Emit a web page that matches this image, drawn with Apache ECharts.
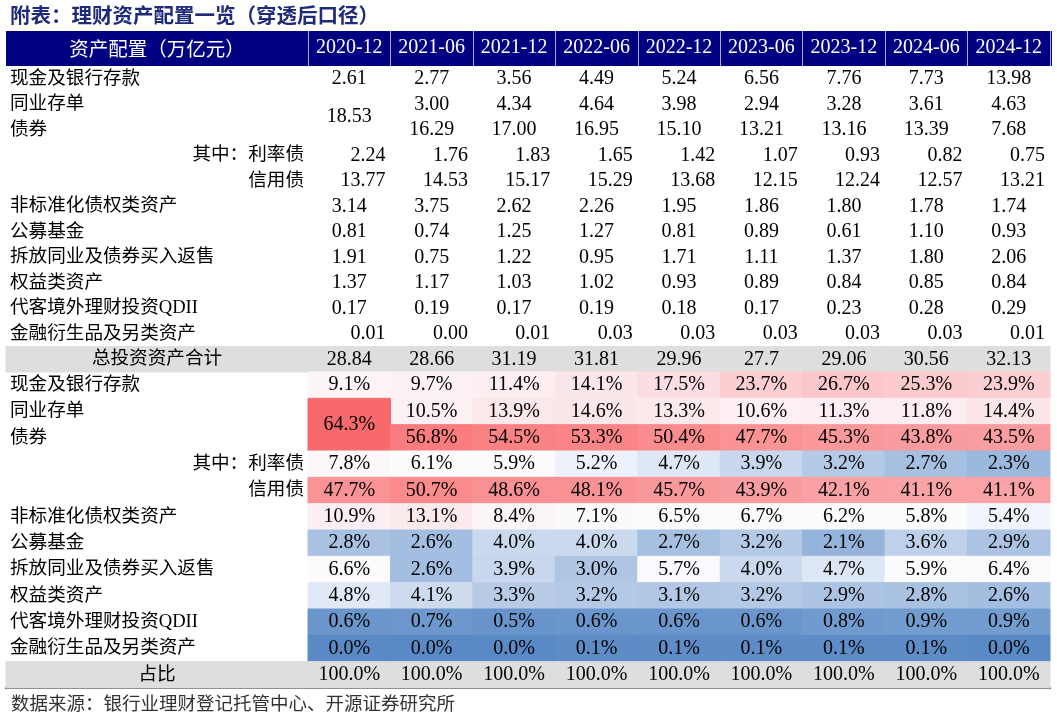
<!DOCTYPE html>
<html><head><meta charset="utf-8">
<script src="https://cdn.jsdelivr.net/npm/echarts@6/dist/echarts.min.js"></script>
<style>html,body{margin:0;padding:0;background:#fff}#c{width:1057px;height:719px}</style>
</head><body><div id="c"></div>
<script>
// ---------- DATA ----------
const dates = ['2020-12','2021-06','2021-12','2022-06','2022-12','2023-06','2023-12','2024-06','2024-12'];
const assetNames = ['现金及银行存款','同业存单','债券','其中：利率债','信用债','非标准化债权类资产','公募基金','拆放同业及债券买入返售','权益类资产','代客境外理财投资QDII','金融衍生品及另类资产'];
const totalName = '总投资资产合计';
const shareName = '占比';
const headerName = '资产配置（万亿元）';

// amounts, 万亿元 (2020-12 同业存单 reported together with 债券)
const amtCash      = [2.61, 2.77, 3.56, 4.49, 5.24, 6.56, 7.76, 7.73, 13.98];
const amtNcd       = [null, 3.00, 4.34, 4.64, 3.98, 2.94, 3.28, 3.61, 4.63];
const amtBond      = [18.53, 16.29, 17.00, 16.95, 15.10, 13.21, 13.16, 13.39, 7.68];
const amtRate      = [2.24, 1.76, 1.83, 1.65, 1.42, 1.07, 0.93, 0.82, 0.75];
const amtCredit    = [13.77, 14.53, 15.17, 15.29, 13.68, 12.15, 12.24, 12.57, 13.21];
const amtNonStd    = [3.14, 3.75, 2.62, 2.26, 1.95, 1.86, 1.80, 1.78, 1.74];
const amtFund      = [0.81, 0.74, 1.25, 1.27, 0.81, 0.89, 0.61, 1.10, 0.93];
const amtRepo      = [1.91, 0.75, 1.22, 0.95, 1.71, 1.11, 1.37, 1.80, 2.06];
const amtEquity    = [1.37, 1.17, 1.03, 1.02, 0.93, 0.89, 0.84, 0.85, 0.84];
const amtQdii      = [0.17, 0.19, 0.17, 0.19, 0.18, 0.17, 0.23, 0.28, 0.29];
const amtDeriv     = [0.01, 0.00, 0.01, 0.03, 0.03, 0.03, 0.03, 0.03, 0.01];
const amtTotal     = [28.84, 28.66, 31.19, 31.81, 29.96, 27.7, 29.06, 30.56, 32.13];

// shares, %
const pctCash   = [9.1, 9.7, 11.4, 14.1, 17.5, 23.7, 26.7, 25.3, 23.9];
const pctNcd    = [null, 10.5, 13.9, 14.6, 13.3, 10.6, 11.3, 11.8, 14.4];
const pctBond   = [64.3, 56.8, 54.5, 53.3, 50.4, 47.7, 45.3, 43.8, 43.5];
const pctRate   = [7.8, 6.1, 5.9, 5.2, 4.7, 3.9, 3.2, 2.7, 2.3];
const pctCredit = [47.7, 50.7, 48.6, 48.1, 45.7, 43.9, 42.1, 41.1, 41.1];
const pctNonStd = [10.9, 13.1, 8.4, 7.1, 6.5, 6.7, 6.2, 5.8, 5.4];
const pctFund   = [2.8, 2.6, 4.0, 4.0, 2.7, 3.2, 2.1, 3.6, 2.9];
const pctRepo   = [6.6, 2.6, 3.9, 3.0, 5.7, 4.0, 4.7, 5.9, 6.4];
const pctEquity = [4.8, 4.1, 3.3, 3.2, 3.1, 3.2, 2.9, 2.8, 2.6];
const pctQdii   = [0.6, 0.7, 0.5, 0.6, 0.6, 0.6, 0.8, 0.9, 0.9];
const pctDeriv  = [0.0, 0.0, 0.0, 0.1, 0.1, 0.1, 0.1, 0.1, 0.0];
const pctShare  = [100.0, 100.0, 100.0, 100.0, 100.0, 100.0, 100.0, 100.0, 100.0];

const titleText = '附表：理财资产配置一览（穿透后口径）';
const sourceText = '数据来源：银行业理财登记托管中心、开源证券研究所';

// ---------- BUILD ----------
const amountRows = [amtCash, amtNcd, amtBond, amtRate, amtCredit, amtNonStd, amtFund, amtRepo, amtEquity, amtQdii, amtDeriv];
const pctRows = [pctCash, pctNcd, pctBond, pctRate, pctCredit, pctNonStd, pctFund, pctRepo, pctEquity, pctQdii, pctDeriv];
const topRows = assetNames.concat([totalName]);
const botRows = assetNames.concat([shareName]);
const TOTAL_ROW = assetNames.length;

// layout/style config
const merges = [{col: 0, from: 1, to: 2}];
const rightAmountRows = [3, 4, 10];
const rightLabelRows = [3, 4];
const SERIF = "'Liberation Serif','Times New Roman','Noto Sans CJK SC'";
const CJK = "'Noto Sans CJK SC'";
const GRAY = '#dedede';
const NAVY = '#000080';

// Excel-style 3-colour scale (min / 50th percentile / max)
const allPct = pctRows.flat().filter(v => v != null).sort((a, b) => a - b);
function pctile(arr, p) { const k = (arr.length - 1) * p, f = Math.floor(k), c = Math.ceil(k); return arr[f] + (arr[c] - arr[f]) * (k - f); }
const vMin = allPct[0], vMax = allPct[allPct.length - 1], vMid = pctile(allPct, 0.5);
const C_MIN = [90, 138, 198], C_MID = [252, 252, 255], C_MAX = [248, 105, 107];
function heat(v) {
  let a, b, t;
  if (v <= vMid) { a = C_MIN; b = C_MID; t = (v - vMin) / (vMid - vMin); }
  else { a = C_MID; b = C_MAX; t = (v - vMid) / (vMax - vMid); }
  t = Math.max(0, Math.min(1, t));
  return 'rgb(' + a.map((x, i) => Math.round(x + (b[i] - x) * t)).join(',') + ')';
}

function findMerge(c, r) { return merges.find(m => m.col === c && m.to === r); }
function cellRect(api, c, r0, r1) {
  const p0 = api.coord([c, r0]), p1 = api.coord([c, r1]);
  const sz = api.size([1, 1]);
  return {x: p0[0] - sz[0] / 2, y: Math.min(p0[1], p1[1]) - sz[1] / 2, width: sz[0], height: Math.abs(p1[1] - p0[1]) + sz[1]};
}

const topData = [];
amountRows.forEach((row, r) => row.forEach((v, c) => { if (v != null) topData.push([c, r, v]); }));
amtTotal.forEach((v, c) => topData.push([c, TOTAL_ROW, v]));
const botData = [];
pctRows.forEach((row, r) => row.forEach((v, c) => { if (v != null) botData.push([c, r, v]); }));
pctShare.forEach((v, c) => botData.push([c, TOTAL_ROW, v]));

function textEl(text, x, y, align, size, family) {
  return {type: 'text', style: {text: text, x: x, y: y, align: align, verticalAlign: 'middle', fill: '#000', fontSize: size, fontFamily: family}};
}

function renderTop(params, api) {
  const c = api.value(0), r = api.value(1), v = api.value(2);
  const m = findMerge(c, r);
  const rect = cellRect(api, c, m ? m.from : r, r);
  const ch = [];
  if (r === TOTAL_ROW) ch.push({type: 'rect', shape: rect, style: {fill: GRAY, stroke: GRAY, lineWidth: 1}});
  const right = rightAmountRows.includes(r) && !m;
  const label = r === TOTAL_ROW ? String(v) : v.toFixed(2);
  ch.push(textEl(label, right ? rect.x + rect.width - 5 : rect.x + rect.width / 2, rect.y + rect.height / 2, right ? 'right' : 'center', 20, SERIF));
  return {type: 'group', children: ch};
}
function renderBot(params, api) {
  const c = api.value(0), r = api.value(1), v = api.value(2);
  const m = findMerge(c, r);
  const rect = cellRect(api, c, m ? m.from : r, r);
  const fill = r === TOTAL_ROW ? GRAY : heat(v);
  return {type: 'group', children: [
    {type: 'rect', shape: rect, style: {fill: fill, stroke: fill, lineWidth: 1}},
    textEl(v.toFixed(1) + '%', rect.x + rect.width / 2, rect.y + rect.height / 2, 'center', 20, SERIF)
  ]};
}
function makeLabelRender(names) {
  return function (params, api) {
    const r = api.value(1);
    const rect = cellRect(api, 0, r, r);
    const ch = [];
    let align = 'left', x = rect.x + 4;
    if (r === TOTAL_ROW) {
      ch.push({type: 'rect', shape: rect, style: {fill: GRAY, stroke: GRAY, lineWidth: 1}});
      align = 'center'; x = rect.x + rect.width / 2;
    } else if (rightLabelRows.includes(r)) { align = 'right'; x = rect.x + rect.width - 4; }
    ch.push(textEl(names[r], x, rect.y + rect.height / 2, align, 18.6, SERIF));
    return {type: 'group', children: ch};
  };
}

const chart = echarts.init(document.getElementById('c'), null, {renderer: 'canvas'});
const hiddenY = (gi, data) => ({type: 'category', gridIndex: gi, data: data, inverse: true, show: false});
chart.setOption({
  backgroundColor: '#fff',
  animation: false,
  title: [
    {text: titleText, left: 5, top: 0, textStyle: {fontSize: 20.5, fontWeight: 'bold', color: '#1f2a7a', fontFamily: CJK}},
    {text: sourceText, left: 6, top: 689, textStyle: {fontSize: 18.5, fontWeight: 'normal', color: '#333', fontFamily: CJK}}
  ],
  graphic: [
    {type: 'rect', z: -1, shape: {x: 6, y: 31, width: 1046, height: 35}, style: {fill: NAVY}}
  ],
  grid: [
    {left: 6, top: 66, width: 302, height: 306, outerBoundsMode: 'none'},
    {left: 308, top: 66, width: 742, height: 306, outerBoundsMode: 'none'},
    {left: 6, top: 372, width: 302, height: 316, outerBoundsMode: 'none'},
    {left: 308, top: 372, width: 742, height: 316, outerBoundsMode: 'none'}
  ],
  xAxis: [
    {type: 'category', gridIndex: 0, data: [headerName], position: 'top', z: 10,
     axisLine: {show: false}, axisTick: {show: false},
     axisLabel: {color: '#fff', fontSize: 19.5, fontFamily: CJK, margin: 8}},
    {type: 'category', gridIndex: 1, data: dates, position: 'top', z: 10,
     axisLine: {show: false},
     axisTick: {show: true, length: 35, lineStyle: {color: 'rgba(200,200,235,0.85)', width: 1}},
     axisLabel: {color: '#fff', fontSize: 20, fontFamily: SERIF, margin: 8, interval: 0}},
    {type: 'category', gridIndex: 2, data: [''], position: 'bottom',
     axisLine: {show: true, lineStyle: {color: '#444', width: 2}}, axisTick: {show: false}, axisLabel: {show: false}},
    {type: 'category', gridIndex: 3, data: dates, position: 'bottom',
     axisLine: {show: true, lineStyle: {color: '#444', width: 2}}, axisTick: {show: false}, axisLabel: {show: false}}
  ],
  yAxis: [hiddenY(0, topRows), hiddenY(1, topRows), hiddenY(2, botRows), hiddenY(3, botRows)],
  series: [
    {type: 'custom', xAxisIndex: 0, yAxisIndex: 0, renderItem: makeLabelRender(topRows),
     data: topRows.map((n, r) => [0, r]), encode: {x: 0, y: 1}, silent: true},
    {type: 'custom', xAxisIndex: 1, yAxisIndex: 1, renderItem: renderTop,
     data: topData, encode: {x: 0, y: 1}, silent: true},
    {type: 'custom', xAxisIndex: 2, yAxisIndex: 2, renderItem: makeLabelRender(botRows),
     data: botRows.map((n, r) => [0, r]), encode: {x: 0, y: 1}, silent: true},
    {type: 'custom', xAxisIndex: 3, yAxisIndex: 3, renderItem: renderBot,
     data: botData, encode: {x: 0, y: 1}, silent: true}
  ]
});
</script></body></html>
